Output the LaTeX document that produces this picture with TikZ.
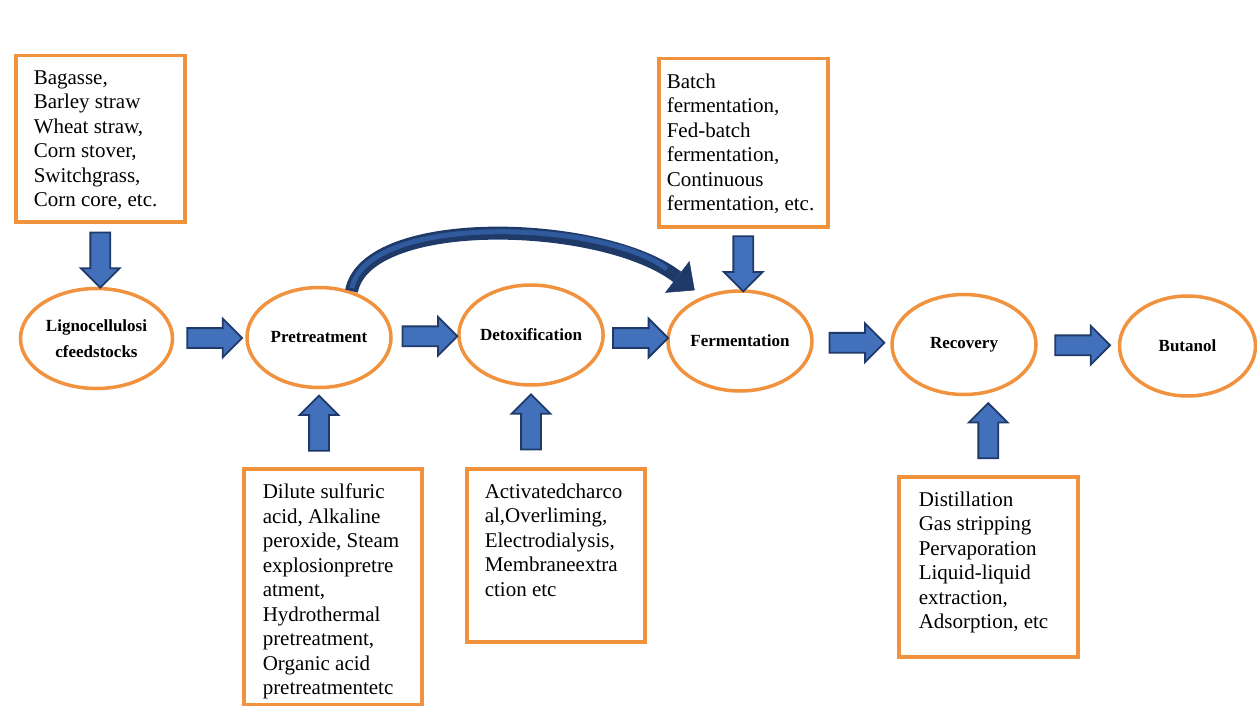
\documentclass[tikz,border=0pt]{standalone}
\usepackage{fontspec}
\setmainfont{Liberation Serif}
\usetikzlibrary{arrows.meta,shapes.geometric,shapes.arrows}
\definecolor{ora}{HTML}{F0923E}
\definecolor{blu}{HTML}{4270BA}
\definecolor{nav}{HTML}{1F3A68}
\definecolor{navin}{HTML}{2F5A9E}
\newcommand{\boxtxt}[3]{\parbox[t][#1][t]{#2}{#3}}

\begin{document}
\begin{tikzpicture}[x=1pt,y=-1pt,
  txt/.style={draw=ora,line width=3.5pt,anchor=north west,inner xsep=18pt,
              inner ysep=15pt,font=\fontsize{21}{24.5}\selectfont},
  ell/.style={ellipse,draw=ora,line width=3.5pt,minimum width=144pt,
              minimum height=100pt,inner sep=0pt,align=center,
              font=\bfseries\fontsize{17}{26}\selectfont},
  blk/.style={single arrow,draw=nav,fill=blu,line width=1.8pt,inner sep=9pt,
              minimum height=55pt,single arrow head extend=9.5pt},
  up/.style={blk,rotate=90}, dn/.style={blk,rotate=-90},
  curv/.style={nav,line width=13pt,
               -{Triangle[length=22pt,width=40pt,line width=0.5pt]}}]
\useasboundingbox (0,0) rectangle (1257,706);
\node[txt] (bag) at (14,54) {\boxtxt{136pt}{133pt}{Bagasse,\\Barley straw\\Wheat straw,\\Corn stover,\\Switchgrass,\\Corn core, etc.}};
\node[txt,inner xsep=8pt] (bat) at (657,57) {\boxtxt{138pt}{153pt}{Batch\\fermentation,\\Fed-batch\\fermentation,\\Continuous\\fermentation, etc.}};
\node[txt,inner xsep=19pt] (dil) at (242,467) {\boxtxt{206pt}{140pt}{Dilute sulfuric\\acid, Alkaline\\peroxide, Steam\\explosionpretre\\atment,\\Hydrothermal\\pretreatment,\\Organic acid\\pretreatmentetc}};
\node[txt] (act) at (465,467) {\boxtxt{143pt}{142pt}{Activatedcharco\\al,Overliming,\\Electrodialysis,\\Membraneextra\\ction etc}};
\node[txt,inner xsep=20pt] (dis) at (897,475) {\boxtxt{150pt}{139pt}{Distillation\\Gas stripping\\Pervaporation\\Liquid-liquid\\extraction,\\Adsorption, etc}};
\node[ell,minimum width=152pt] (lig) at (96.5,338.5) {Lignocellulosi\\cfeedstocks};
\node[ell] (pre) at (319,337.5) {Pretreatment};
\node[ell] (det) at (531,335) {Detoxification};
\node[ell] (fer) at (740,341) {Fermentation};
\node[ell] (rec) at (964,344.5) {Recovery};
\node[ell,minimum width=136pt] (but) at (1187.5,346) {Butanol};
\path (bag.south) -- (bag.south |- lig.north) node[midway,dn] (a1) {};
\path (bat.south) -- (bat.south |- fer.north) node[midway,dn] (a2) {};
\path (lig.east) -- (pre.west) node[midway,blk] (a3) {};
\path (pre.east) -- (det.west) node[midway,blk] (a4) {};
\path (det.east) -- (fer.west) node[midway,blk] (a5) {};
\path (fer.east) -- (rec.west) node[midway,blk] (a6) {};
\path (rec.east) -- (but.west) node[midway,blk] (a7) {};
\path (dil.north -| pre.south) -- (pre.south) node[midway,up] (a8) {};
\path (act.north -| det.south) -- (det.south) node[midway,up] (a9) {};
\path (dis.north) -- (dis.north |- rec.south) node[midway,up] (a10) {};
\draw[curv,shorten >=10pt] (pre.55) .. controls +(15,-78) and +(-100,-77) .. (fer.130);
\draw[navin,line width=5pt,shorten >=45pt,shorten <=3pt] (pre.55) .. controls +(15,-78) and +(-100,-77) .. (fer.130);
\end{tikzpicture}
\end{document}
